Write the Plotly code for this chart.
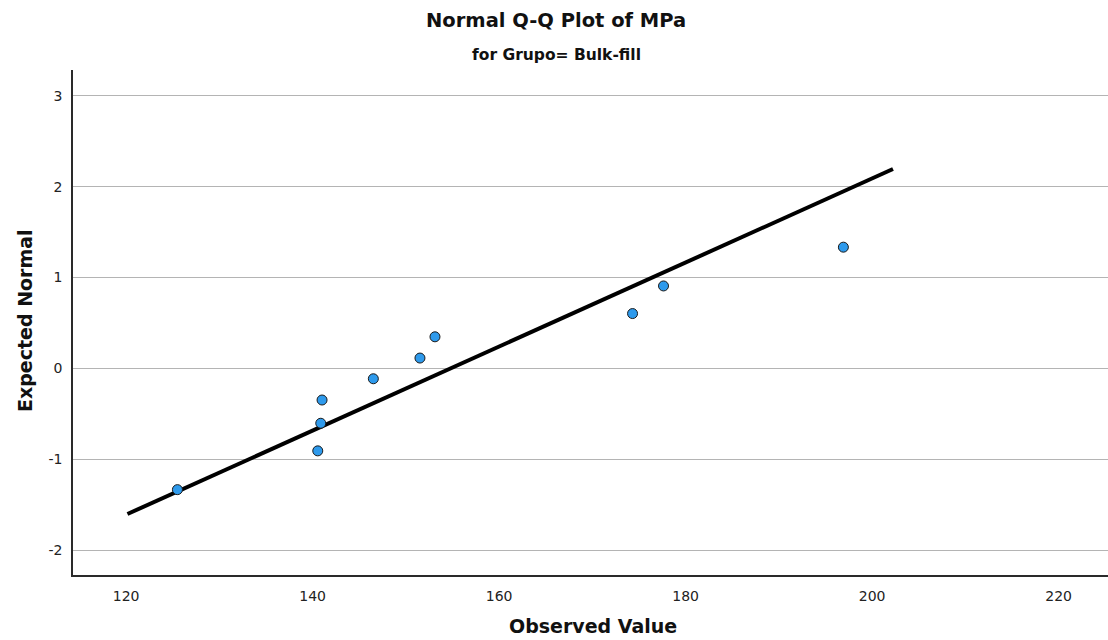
import numpy as np
import plotly.graph_objects as go

# Data
observed = [125.50, 140.55, 140.87, 141.01, 146.51, 151.51, 153.12, 174.31, 177.63, 196.92]
expected = [-1.335, -0.908, -0.604, -0.348, -0.114, 0.114, 0.348, 0.604, 0.908, 1.335]
line_x = [120.14, 202.24]
x_ticks = [120, 140, 160, 180, 200, 220]
y_ticks = [-2, -1, 0, 1, 2, 3]

mean = np.mean(observed)
sd = np.std(observed, ddof=1)
line_y = [(v - mean) / sd for v in line_x]

fig = go.Figure()
fig.add_trace(go.Scatter(x=line_x, y=line_y, mode="lines",
                         line=dict(color="black", width=4), hoverinfo="skip"))
fig.add_trace(go.Scatter(x=observed, y=expected, mode="markers",
                         marker=dict(size=10, color="#2E9AEC",
                                     line=dict(color="#1a1a1a", width=1))))

W, H = 1108, 640
L, R, T, B = 73, 0, 70, 640 - 575

font_family = "DejaVu Sans, sans-serif"
fig.update_layout(
    width=W, height=H,
    margin=dict(l=L, r=R, t=T, b=B),
    paper_bgcolor="white", plot_bgcolor="white",
    showlegend=False,
    font=dict(family=font_family, color="#222"),
    xaxis=dict(range=[114.3, 225.3], tickvals=x_ticks, showgrid=False,
               zeroline=False, showline=True, linecolor="#2a2a2a", linewidth=1.5,
               ticks="", tickfont=dict(size=14, color="#222"), ticklabelstandoff=7),
    yaxis=dict(range=[-2.275, 3.286], tickvals=y_ticks,
               ticktext=[str(t) for t in y_ticks],
               showgrid=True, gridcolor="#b4b4b4", gridwidth=1,
               zeroline=False, showline=True, linecolor="#2a2a2a", linewidth=1.5,
               ticks="", tickfont=dict(size=14, color="#222"), ticklabelstandoff=6),
)

# annotations placed by page-pixel centre
labels = [
    ("<b>Normal Q-Q Plot of MPa</b>", 556, 21, 19.5, 0),
    ("<b>for Grupo= Bulk-fill</b>", 556, 55, 15.5, 0),
    ("<b>Observed Value</b>", 593, 626, 19, 0),
    ("<b>Expected Normal</b>", 25, 321, 19, -90),
]
pw = W - L - R
ph = H - T - B
for text, px, py, size, ang in labels:
    fig.add_annotation(text=text, xref="paper", yref="paper",
                       x=(px - L) / pw, y=(H - py - B) / ph,
                       xanchor="center", yanchor="middle", showarrow=False,
                       textangle=ang, font=dict(size=size, color="#111", family=font_family))

fig.write_html("out.html", config={"displayModeBar": False},
               post_script="document.body.style.margin='0';document.body.style.overflow='hidden';")
